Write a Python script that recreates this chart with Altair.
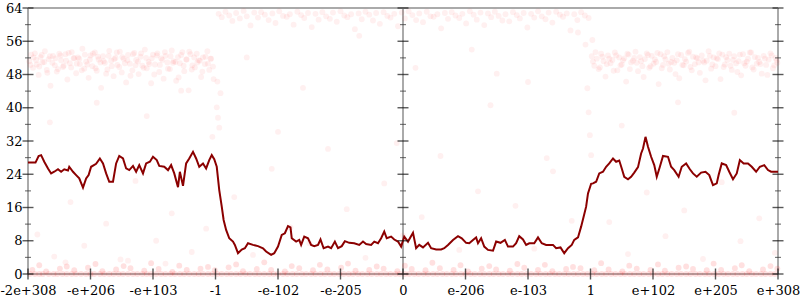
import altair as alt
import pandas as pd

tick_labels = ["-2e+308", "-e+206", "-e+103", "-1", "-e-102", "-e-205", "0",
               "e-206", "e-103", "1", "e+102", "e+205", "e+308"]
tick_pos = list(range(13))
y_ticks_major = [0, 8, 16, 24, 32, 40, 48, 56, 64]
y_ticks_minor = [4, 12, 20, 28, 36, 44, 52, 60]
frame_x = [0, 6, 12]

# moving-average line
line_x = [0.0, 0.12, 0.17, 0.21, 0.26, 0.32, 0.37, 0.42, 0.48, 0.53, 0.58, 0.64, 0.66, 0.72, 0.77, 0.82, 0.88,
          0.93, 0.97, 1.01, 1.09, 1.15, 1.20, 1.25, 1.30, 1.36, 1.41, 1.46, 1.52, 1.57, 1.62, 1.68, 1.73, 1.78,
          1.84, 1.89, 1.95, 2.00, 2.06, 2.10, 2.18, 2.24, 2.29, 2.34, 2.40, 2.43, 2.48, 2.53, 2.58, 2.64, 2.69,
          2.74, 2.80, 2.85, 2.90, 2.94, 2.98, 3.02, 3.06, 3.10, 3.13, 3.17, 3.22, 3.28, 3.31, 3.36, 3.42, 3.47,
          3.52, 3.60, 3.68, 3.76, 3.81, 3.89, 3.94, 4.00, 4.06, 4.11, 4.16, 4.20, 4.22, 4.29, 4.34, 4.37, 4.42,
          4.48, 4.53, 4.58, 4.64, 4.68, 4.73, 4.80, 4.85, 4.91, 4.96, 5.02, 5.07, 5.14, 5.22, 5.30, 5.36, 5.41,
          5.49, 5.54, 5.60, 5.65, 5.70, 5.74, 5.81, 5.86, 5.92, 5.97, 6.02, 6.08, 6.16, 6.21, 6.26, 6.32, 6.40,
          6.45, 6.53, 6.61, 6.66, 6.72, 6.80, 6.88, 6.94, 7.01, 7.06, 7.12, 7.17, 7.20, 7.25, 7.30, 7.36, 7.44,
          7.49, 7.56, 7.63, 7.68, 7.76, 7.81, 7.86, 7.92, 7.97, 8.02, 8.10, 8.16, 8.22, 8.29, 8.34, 8.40, 8.45,
          8.52, 8.58, 8.64, 8.70, 8.74, 8.80, 8.85, 8.89, 8.93, 8.96, 9.01, 9.04, 9.09, 9.14, 9.20, 9.25, 9.30,
          9.36, 9.41, 9.46, 9.50, 9.54, 9.60, 9.65, 9.70, 9.76, 9.81, 9.84, 9.88, 9.92, 9.97, 10.02, 10.06,
          10.11, 10.16, 10.24, 10.29, 10.34, 10.41, 10.46, 10.53, 10.59, 10.64, 10.70, 10.77, 10.84, 10.90,
          10.96, 11.02, 11.05, 11.10, 11.17, 11.22, 11.28, 11.34, 11.39, 11.45, 11.52, 11.58, 11.65, 11.71,
          11.78, 11.84, 11.89, 11.97, 12.0]
line_y = [26.8, 26.8, 28.4, 28.6, 27.0, 25.4, 24.2, 24.6, 25.2, 24.6, 25.2, 24.9, 25.8, 24.6, 23.8, 23.0, 20.8,
          23.0, 23.8, 25.8, 26.5, 27.8, 26.6, 24.2, 22.2, 22.2, 26.6, 28.4, 27.8, 25.4, 25.0, 26.0, 24.6, 26.2,
          24.2, 26.6, 27.0, 28.2, 27.4, 26.0, 25.8, 25.0, 26.2, 24.2, 20.9, 24.6, 21.2, 26.6, 27.8, 29.4, 27.8,
          25.8, 26.6, 25.4, 27.4, 28.6, 27.6, 25.8, 20.2, 16.2, 13.0, 10.6, 8.6, 7.8, 7.0, 5.0, 5.9, 6.2,
          7.4, 7.0, 6.7, 6.2, 5.4, 4.6, 5.0, 6.6, 9.4, 9.8, 11.5, 11.2, 8.6, 7.8, 8.2, 7.0, 9.0,
          8.6, 7.0, 6.7, 7.0, 8.3, 6.2, 6.6, 6.2, 7.8, 6.2, 6.7, 7.9, 7.5, 7.4, 7.0, 7.8, 7.2,
          7.0, 7.8, 7.4, 8.6, 10.2, 8.6, 9.0, 8.3, 7.8, 6.6, 9.0, 7.8, 9.9, 6.2, 7.0, 6.4, 7.5,
          6.2, 5.9, 5.9, 6.2, 7.0, 8.2, 9.1, 8.6, 7.5, 7.4, 8.2, 8.8, 7.4, 8.6, 6.6, 5.8, 5.6,
          7.8, 7.5, 8.2, 6.6, 6.6, 7.4, 9.1, 8.3, 7.0, 7.4, 7.4, 8.8, 7.4, 7.0, 7.0, 7.0, 6.2,
          6.4, 5.0, 6.2, 7.0, 8.2, 8.8, 11.4, 13.8, 16.2, 19.4, 21.7, 21.8, 22.2, 24.2, 24.6, 25.8, 26.6,
          27.8, 27.0, 27.3, 25.4, 23.4, 22.8, 23.4, 24.4, 25.7, 29.0, 30.2, 33.0, 30.6, 28.2, 26.2, 23.4,
          25.8, 28.4, 28.2, 25.8, 25.0, 23.4, 25.8, 26.6, 25.2, 24.2, 23.4, 24.4, 24.6, 23.8,
          21.4, 21.8, 23.8, 26.6, 26.2, 24.6, 22.8, 24.2, 27.4, 26.6, 26.6, 25.8, 24.6, 25.8,
          26.2, 25.0, 24.6, 24.6, 24.6]

# left band of points (below -1)
lb_x1 = [0.02, 0.05, 0.08, 0.11, 0.14, 0.17, 0.2, 0.23, 0.27, 0.3, 0.33, 0.36, 0.4, 0.43, 0.46, 0.5, 0.53, 0.56,
         0.6, 0.63, 0.67, 0.7, 0.73, 0.77, 0.8, 0.83, 0.87, 0.9, 0.93, 0.97, 1.0, 1.03, 1.07, 1.1, 1.13, 1.17,
         1.2, 1.23, 1.27, 1.3, 1.33, 1.37, 1.4, 1.43, 1.47, 1.5, 1.53, 1.57, 1.6, 1.63, 1.67, 1.7, 1.73, 1.77,
         1.8, 1.83, 1.87, 1.9, 1.93, 1.97, 2.0, 2.03, 2.07, 2.1, 2.13, 2.17, 2.2, 2.23, 2.27, 2.3, 2.33, 2.37,
         2.4, 2.43, 2.47, 2.5, 2.53, 2.57, 2.6, 2.63, 2.67, 2.7, 2.73, 2.77, 2.8, 2.83, 2.87, 2.9, 2.93, 2.97]
lb_y1 = [51.2, 52.8, 49.6, 53.1, 50.4, 47.9, 52.2, 50.9, 53.6, 49.1, 51.7, 45.3, 52.5, 50.2, 48.7, 53.0, 51.4,
         49.8, 52.9, 46.8, 50.7, 53.4, 51.9, 48.3, 52.1, 50.5, 54.2, 49.4, 51.1, 47.2, 52.6, 50.0, 53.3, 48.9,
         51.6, 44.8, 52.4, 50.8, 49.2, 53.7, 51.3, 47.6, 52.0, 50.3, 53.5, 48.5, 51.8, 46.1, 52.7, 50.6, 49.0,
         53.2, 51.5, 48.1, 52.3, 50.1, 54.0, 49.5, 51.0, 45.9, 52.8, 50.4, 53.1, 48.6, 51.9, 47.0, 52.5, 50.9,
         49.3, 53.8, 51.2, 46.5, 52.2, 50.7, 53.4, 48.8, 51.6, 44.2, 52.9, 50.2, 49.7, 53.0, 51.4, 47.4, 52.1,
         50.5, 53.6, 49.1, 51.8, 46.9]
lb_x2 = [0.04, 0.09, 0.13, 0.18, 0.22, 0.26, 0.31, 0.35, 0.39, 0.44, 0.48, 0.52, 0.57, 0.61, 0.65, 0.69, 0.74,
         0.78, 0.82, 0.86, 0.91, 0.95, 0.99, 1.04, 1.08, 1.12, 1.16, 1.21, 1.25, 1.29, 1.34, 1.38, 1.42, 1.46,
         1.51, 1.55, 1.59, 1.64, 1.68, 1.72, 1.76, 1.81, 1.85, 1.89, 1.94, 1.98, 2.02, 2.06, 2.11, 2.15, 2.19,
         2.24, 2.28, 2.32, 2.36, 2.41, 2.45, 2.49, 2.54, 2.58, 2.62, 2.66, 2.71, 2.75, 2.79, 2.84, 2.88, 2.92,
         2.96]
lb_y2 = [50.3, 52.1, 51.5, 49.9, 52.7, 51.0, 48.4, 52.4, 50.8, 51.9, 49.3, 52.6, 50.1, 51.3, 53.2, 49.7, 52.0,
         50.6, 51.8, 49.0, 52.8, 50.4, 51.6, 53.0, 49.5, 52.3, 50.9, 51.2, 48.2, 52.5, 50.0, 51.7, 53.3, 49.8,
         52.2, 50.7, 51.4, 47.7, 52.9, 50.2, 51.1, 53.1, 49.6, 52.0, 50.5, 51.9, 48.0, 52.6, 50.3, 51.5, 53.4,
         49.4, 52.4, 50.8, 51.0, 47.3, 52.7, 50.1, 51.6, 53.5, 49.2, 52.1, 50.9, 51.3, 48.7, 52.3, 50.6, 51.8,
         49.9]

# right band of points (above 1)
rb_x1 = [9.02, 9.06, 9.1, 9.13, 9.17, 9.21, 9.24, 9.28, 9.32, 9.35, 9.39, 9.43, 9.46, 9.5, 9.54, 9.57, 9.61,
         9.65, 9.68, 9.72, 9.76, 9.79, 9.83, 9.87, 9.9, 9.94, 9.98, 10.01, 10.05, 10.09, 10.12, 10.16, 10.2,
         10.23, 10.27, 10.31, 10.34, 10.38, 10.42, 10.45, 10.49, 10.53, 10.56, 10.6, 10.64, 10.67, 10.71, 10.75,
         10.78, 10.82, 10.86, 10.89, 10.93, 10.97, 11.0, 11.04, 11.08, 11.11, 11.15, 11.19, 11.22, 11.26, 11.3,
         11.33, 11.37, 11.41, 11.44, 11.48, 11.52, 11.55, 11.59, 11.63, 11.66, 11.7, 11.74, 11.77, 11.81, 11.85,
         11.88, 11.92, 11.96, 11.99]
rb_y1 = [52.4, 50.1, 51.8, 49.3, 53.0, 51.2, 47.5, 52.6, 50.7, 51.5, 53.3, 49.0, 52.1, 50.4, 51.9, 46.3, 52.8,
         50.9, 51.3, 53.5, 48.8, 52.2, 50.0, 51.7, 53.1, 49.6, 52.5, 50.6, 51.0, 45.7, 52.9, 50.3, 51.6, 53.4,
         49.2, 52.0, 50.8, 51.4, 47.1, 52.7, 50.2, 51.1, 53.2, 49.8, 52.3, 50.5, 51.9, 48.4, 52.6, 50.9, 51.3,
         53.6, 49.4, 52.1, 50.0, 51.7, 46.9, 52.8, 50.4, 51.5, 53.0, 49.1, 52.4, 50.7, 51.2, 47.8, 52.9, 50.1,
         51.8, 53.3, 49.7, 52.2, 50.6, 51.0, 48.2, 52.5, 50.3, 51.6, 53.1, 49.5, 52.0, 50.8]
rb_x2 = [9.04, 9.08, 9.15, 9.19, 9.26, 9.3, 9.37, 9.41, 9.48, 9.52, 9.59, 9.63, 9.7, 9.74, 9.81, 9.85, 9.92,
         9.96, 10.03, 10.07, 10.14, 10.18, 10.25, 10.29, 10.36, 10.4, 10.47, 10.51, 10.58, 10.62, 10.69, 10.73,
         10.8, 10.84, 10.91, 10.95, 11.02, 11.06, 11.13, 11.17, 11.24, 11.28, 11.35, 11.39, 11.46, 11.5, 11.57,
         11.61, 11.68, 11.72, 11.79, 11.83, 11.9, 11.94, 11.98]
rb_y2 = [51.1, 53.4, 49.7, 52.3, 50.5, 51.8, 48.9, 52.6, 50.2, 51.4, 53.0, 49.3, 52.0, 50.8, 51.2, 47.4, 52.7,
         50.0, 51.6, 53.2, 49.5, 52.4, 50.6, 51.0, 48.1, 52.9, 50.3, 51.7, 53.5, 49.0, 52.1, 50.9, 51.3, 46.6,
         52.5, 50.4, 51.9, 53.1, 49.8, 52.2, 50.1, 51.5, 48.6, 52.8, 50.7, 51.1, 53.3, 49.2, 52.0, 50.5, 51.8,
         47.9, 52.6, 50.2, 51.4]

# top band (between -1 and 1)
tb_x = [3.05, 3.1, 3.16, 3.22, 3.27, 3.33, 3.39, 3.45, 3.5, 3.56, 3.62, 3.68, 3.73, 3.79, 3.85, 3.91, 3.96, 4.02,
        4.08, 4.14, 4.19, 4.25, 4.31, 4.37, 4.42, 4.48, 4.54, 4.6, 4.65, 4.71, 4.77, 4.83, 4.88, 4.94, 5.0, 5.06,
        5.11, 5.17, 5.23, 5.29, 5.34, 5.4, 5.46, 5.52, 5.57, 5.63, 5.69, 5.75, 5.8, 5.86, 5.92, 5.98, 6.03, 6.09,
        6.15, 6.21, 6.26, 6.32, 6.38, 6.44, 6.49, 6.55, 6.61, 6.67, 6.72, 6.78, 6.84, 6.9, 6.95, 7.01, 7.07, 7.13,
        7.18, 7.24, 7.3, 7.36, 7.41, 7.47, 7.53, 7.59, 7.64, 7.7, 7.76, 7.82, 7.87, 7.93, 7.99, 8.05, 8.1, 8.16,
        8.22, 8.28, 8.33, 8.39, 8.45, 8.51, 8.56, 8.62, 8.68, 8.74, 8.79, 8.85, 8.91, 8.97]
tb_y = [62.6, 61.8, 63.1, 62.2, 60.9, 62.8, 61.5, 63.3, 62.0, 59.8, 62.9, 61.7, 63.0, 62.4, 61.1, 62.7, 60.4, 63.2,
        62.1, 61.9, 62.5, 60.0, 63.1, 62.3, 61.6, 62.8, 59.4, 62.6, 61.2, 63.0, 62.0, 61.4, 62.9, 60.7, 63.2, 62.2,
        61.8, 62.5, 58.9, 62.7, 61.3, 63.1, 62.4, 61.0, 62.8, 60.2, 63.0, 62.1, 61.7, 62.6, 59.6, 62.9, 61.5, 63.2,
        62.3, 61.1, 62.7, 60.6, 63.1, 62.0, 61.9, 62.5, 59.1, 62.8, 61.4, 63.0, 62.2, 61.6, 62.6, 60.3, 63.2, 62.4,
        61.2, 62.9, 59.9, 62.7, 61.8, 63.1, 62.1, 61.0, 62.5, 60.8, 63.0, 62.3, 61.5, 62.8, 59.3, 62.6, 61.7, 63.2,
        62.0, 61.3, 62.9, 60.5, 63.1, 62.4, 61.9, 62.7, 58.6, 62.5, 61.1, 63.0, 62.2, 61.6]

# points exactly at zero
zero_x = [0.03, 0.11, 0.18, 0.24, 0.33, 0.41, 0.47, 0.55, 0.62, 0.7, 0.77, 0.85, 0.93, 1.0, 1.06, 1.15, 1.22,
          1.3, 1.37, 1.45, 1.52, 1.6, 1.68, 1.75, 1.83, 1.9, 1.97, 2.05, 2.13, 2.2, 2.28, 2.35, 2.43, 2.5, 2.58,
          2.66, 2.73, 2.8, 2.88, 2.95, 3.03, 3.1, 3.18, 3.25, 3.33, 3.4, 3.48, 3.55, 3.63, 3.7, 3.78, 3.86, 3.93,
          4.0, 4.08, 4.15, 4.23, 4.3, 4.38, 4.45, 4.53, 4.6, 4.68, 4.75, 4.83, 4.9, 4.98, 5.05, 5.13, 5.2, 5.28,
          5.35, 5.43, 5.5, 5.58, 5.65, 5.73, 5.8, 5.88, 5.95, 6.03, 6.1, 6.18, 6.25, 6.33, 6.4, 6.48, 6.55, 6.63,
          6.7, 6.78, 6.85, 6.93, 7.0, 7.08, 7.15, 7.23, 7.3, 7.38, 7.45, 7.53, 7.6, 7.68, 7.75, 7.83, 7.9, 7.98,
          8.05, 8.13, 8.2, 8.28, 8.35, 8.43, 8.5, 8.58, 8.65, 8.73, 8.8, 8.88, 8.95, 9.03, 9.1, 9.18, 9.25, 9.33,
          9.4, 9.48, 9.55, 9.63, 9.7, 9.78, 9.85, 9.93, 10.0, 10.08, 10.15, 10.23, 10.3, 10.38, 10.45, 10.53,
          10.6, 10.68, 10.75, 10.83, 10.9, 10.98, 11.05, 11.13, 11.2, 11.28, 11.35, 11.43, 11.5, 11.58, 11.65,
          11.73, 11.8, 11.88, 11.95]

# points just above zero
low_x = [0.07, 0.29, 0.51, 0.74, 0.96, 1.19, 1.41, 1.64, 1.86, 2.09, 2.31, 2.54, 2.76, 2.99, 3.21, 3.44, 3.66,
         3.89, 4.11, 4.34, 4.56, 4.79, 5.01, 5.24, 5.46, 5.69, 5.91, 6.14, 6.36, 6.59, 6.81, 7.04, 7.26, 7.49,
         7.71, 7.94, 8.16, 8.39, 8.61, 8.84, 9.06, 9.29, 9.51, 9.74, 9.96, 10.19, 10.41, 10.64, 10.86, 11.09,
         11.31, 11.54, 11.76, 11.99, 0.18, 0.62, 1.08, 1.53, 1.97, 2.42, 2.88, 3.33, 3.78, 4.22, 4.67, 5.12,
         5.58, 6.03, 6.47, 6.92, 7.38, 7.83, 8.27, 8.72, 9.17, 9.62, 10.08, 10.53, 10.97, 11.42, 11.88]
low_y = [1.0, 0.6, 1.3, 0.9, 1.5, 0.7, 1.1, 1.4, 0.8, 1.2, 0.5, 1.0, 1.3, 0.9, 1.6, 0.7, 1.2, 1.0, 0.6, 1.4,
         0.9, 1.1, 1.5, 0.8, 1.0, 1.3, 0.7, 1.2, 0.9, 1.4, 1.0, 0.6, 1.3, 1.1, 0.8, 1.5, 1.0, 0.7, 1.2, 1.4,
         0.9, 1.1, 0.6, 1.3, 1.0, 0.8, 1.5, 1.2, 0.9, 1.0, 1.4, 0.7, 1.1, 1.3, 2.1, 1.8, 2.4, 1.9, 2.6, 2.0,
         1.7, 2.3, 2.8, 1.9, 2.2, 2.5, 1.8, 2.0, 2.7, 2.1, 1.9, 2.4, 2.2, 1.7, 2.6, 2.0, 2.3, 1.8, 2.5, 2.1, 1.9]

# sparse scattered points
sp_x = [0.15, 0.42, 0.68, 0.9, 1.25, 1.48, 1.72, 2.05, 2.3, 2.62, 2.85, 0.35, 1.1, 1.9, 2.45, 2.95, 3.02, 3.04,
        3.06, 3.08, 3.03, 3.3, 3.6, 3.9, 4.2, 4.5, 4.8, 5.1, 5.4, 5.7, 6.0, 6.3, 6.6, 6.9, 7.2, 7.5, 7.8, 8.1,
        8.4, 8.7, 8.92, 8.95, 8.97, 8.99, 9.01, 9.03, 9.3, 9.6, 9.9, 10.2, 10.5, 10.8, 11.1, 11.4, 11.7, 11.95,
        3.5, 4.4, 5.3, 6.2, 7.1, 8.0, 8.8, 0.6, 1.6, 2.2, 9.5, 10.4, 11.3, 4.0, 5.9, 7.4, 8.3]
sp_y = [9.5, 4.2, 17.3, 6.8, 12.1, 3.5, 22.4, 8.0, 14.6, 5.3, 10.9, 36.5, 41.2, 38.0, 44.1, 33.0, 40.1, 37.6,
        35.2, 43.5, 46.3, 18.5, 4.6, 25.3, 11.2, 7.4, 30.1, 15.6, 3.9, 21.8, 9.3, 13.7, 28.4, 5.8, 19.9, 48.2,
        16.4, 6.1, 24.7, 12.8, 55.2, 44.7, 38.9, 33.4, 28.6, 56.3, 12.5, 4.8, 19.6, 9.1, 15.3, 3.6, 22.1, 7.9,
        13.4, 5.1, 52.1, 44.8, 57.3, 49.6, 54.0, 46.2, 58.1, 2.8, 3.2, 2.5, 35.7, 41.3, 38.8, 34.2, 31.5, 40.6,
        27.9]


def pairs(xs, ys):
    n = min(len(xs), len(ys))
    return pd.DataFrame({"x": xs[:n], "y": ys[:n]})


points = pd.concat([
    pairs(lb_x1, lb_y1), pairs(lb_x2, lb_y2),
    pairs(rb_x1, rb_y1), pairs(rb_x2, rb_y2),
    pairs(tb_x, tb_y),
    pairs(sp_x, sp_y),
], ignore_index=True)
zero_pts = pd.concat([
    pairs(zero_x, [0.0] * len(zero_x)),
    pairs(low_x, low_y),
], ignore_index=True)

line_df = pairs(line_x, line_y)

label_expr = "[" + ",".join("'%s'" % s for s in tick_labels) + "][datum.value]"

FONT = "DejaVu Serif"
xs = alt.Scale(domain=[0, 12], nice=False, zero=False)
ys = alt.Scale(domain=[0, 64], nice=False, zero=False)
x_axis = alt.Axis(values=tick_pos, labelExpr=label_expr, ticks=False, domain=False, grid=False,
                  labelFont=FONT, labelFontSize=13, labelColor="#000", labelPadding=10,
                  labelFlush=False, labelOverlap=False, title=None)
y_axis = alt.Axis(values=y_ticks_major, ticks=False, domain=False, grid=False,
                  labelFont=FONT, labelFontSize=13, labelColor="#000", labelPadding=6, title=None)


def X(field="x"):
    return alt.X(field + ":Q", scale=xs, axis=x_axis)


def Y(field="y"):
    return alt.Y(field + ":Q", scale=ys, axis=y_axis)


frame_v = pd.DataFrame({"x": frame_x, "y0": [0] * 3, "y1": [64] * 3})
frame_h = pd.DataFrame({"y": [0, 64], "x0": [0, 0], "x1": [12, 12]})

v_rules = alt.Chart(frame_v).mark_rule(color="#aaaaaa", strokeWidth=2).encode(
    x=X(), y=Y("y0"), y2="y1:Q")
h_rules = alt.Chart(frame_h).mark_rule(color="#aaaaaa", strokeWidth=2).encode(
    y=Y(), x=X("x0"), x2="x1:Q")

pts = alt.Chart(points).mark_circle(color="#ff2020", opacity=0.065, size=34).encode(x=X(), y=Y())
zpts = alt.Chart(zero_pts).mark_circle(color="#ff2020", opacity=0.14, size=34).encode(x=X(), y=Y())

line = alt.Chart(line_df).mark_line(color="#8b0000", strokeWidth=2).encode(x=X(), y=Y())

maj = pd.DataFrame([(fx, v) for fx in frame_x for v in y_ticks_major], columns=["x", "y"])
mnr = pd.DataFrame([(fx, v) for fx in frame_x for v in y_ticks_minor], columns=["x", "y"])
xt = pd.DataFrame({"x": tick_pos, "y": [0] * len(tick_pos)})

maj_ticks = alt.Chart(maj).mark_tick(orient="horizontal", size=11, thickness=1.4, color="#111").encode(
    x=X(), y=Y())
mnr_ticks = alt.Chart(mnr).mark_tick(orient="horizontal", size=6, thickness=1.1, color="#333").encode(
    x=X(), y=Y())
x_ticks = alt.Chart(xt).mark_tick(orient="vertical", size=11, thickness=1.4, color="#111").encode(
    x=X(), y=Y())

chart = alt.layer(v_rules, h_rules, pts, zpts, line, maj_ticks, mnr_ticks, x_ticks).properties(
    width=750, height=266,
    autosize=alt.AutoSizeParams(type="none"),
    padding={"left": 28, "right": 22, "top": 8, "bottom": 26},
    background="white",
).configure_view(stroke=None)

chart.save("out.html", embed_options={"renderer": "svg", "actions": False})
